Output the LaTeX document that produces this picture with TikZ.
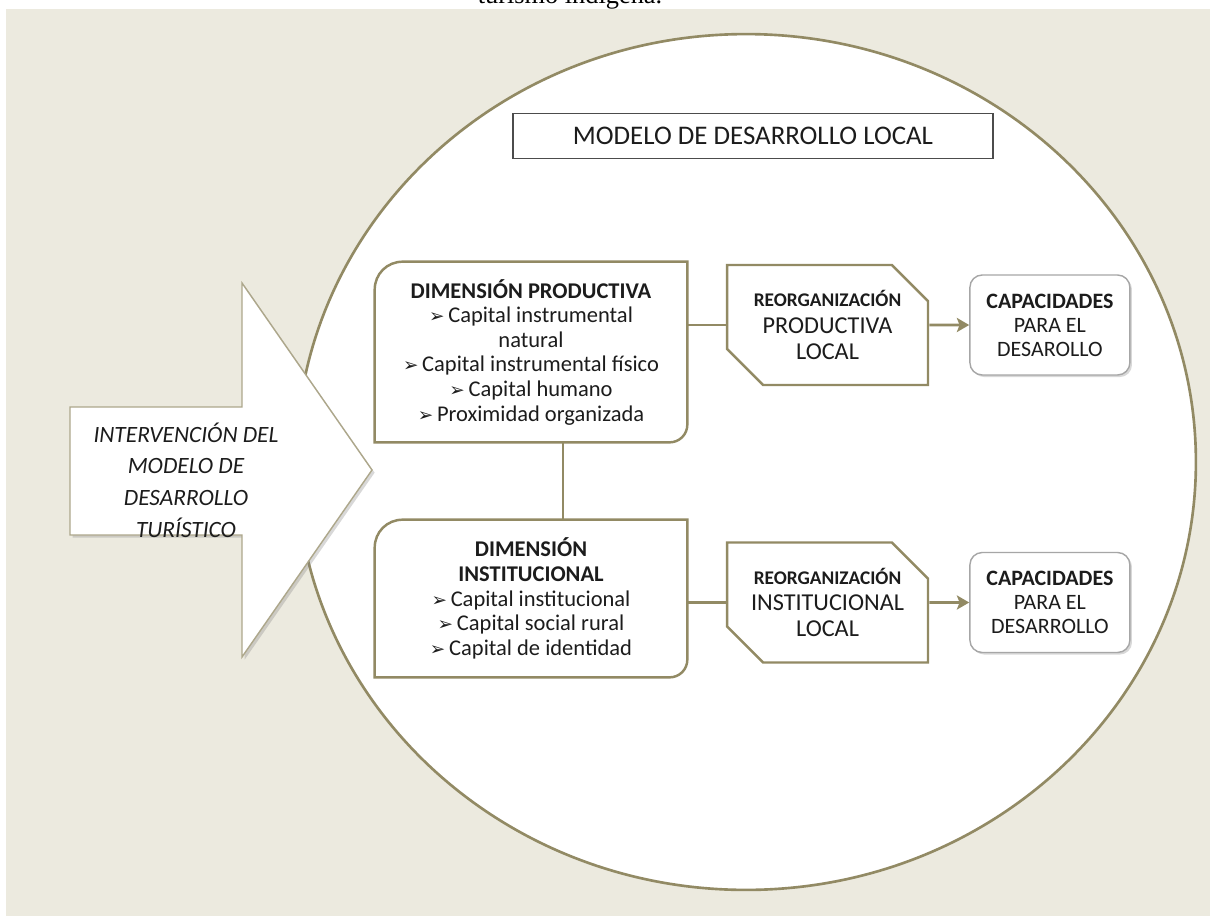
\documentclass[tikz,border=0pt]{standalone}
\usepackage{fontspec}
\setmainfont{Carlito}
\newfontfamily\captionserif{Liberation Serif}
\newfontfamily\dingfont{DejaVu Sans}
\usetikzlibrary{arrows.meta,shapes.geometric,shapes.misc,positioning,shadows}
\definecolor{bgbeige}{RGB}{236,234,223}
\definecolor{olivegray}{RGB}{146,138,100}
\definecolor{inkgray}{RGB}{28,28,28}
\newcommand\bul{{\dingfont\fontsize{10.5}{10.5}\selectfont ➢}\,}
\newcommand\diagbox[1]{\draw[dimline] (#1.north east) -- ([yshift=10pt]#1.south east)
  .. controls ([yshift=4.5pt]#1.south east) and ([xshift=-4.5pt]#1.south east) .. ([xshift=-10pt]#1.south east) -- (#1.south west)
  -- ([yshift=-16pt]#1.north west) .. controls ([yshift=-7pt]#1.north west) and ([xshift=7pt]#1.north west) .. ([xshift=16pt]#1.north west) -- cycle;}

\begin{document}
\begin{tikzpicture}[x=0.02cm, y=-0.02cm, font=\fontsize{12.8}{14}\selectfont, text=inkgray, >={Stealth[length=7pt, width=8pt, inset=1.5pt]}]
    \tikzstyle{dim}     = [rectangle, fill=white, align=center, minimum width=6.24cm, inner sep=3pt]
    \tikzstyle{dimline} = [olivegray, line width=1.4pt]
    \tikzstyle{reorg}   = [chamfered rectangle, chamfered rectangle corners={north east, south west}, chamfered rectangle xsep=0.36cm, chamfered rectangle ysep=0.36cm, draw=olivegray, line width=1.4pt, fill=white, align=center, minimum width=4.02cm, minimum height=2.4cm, font=\fontsize{13.8}{15}\selectfont]
    \tikzstyle{capac}   = [rectangle, rounded corners=7pt, draw=black!35, line width=0.8pt, fill=white, align=center, minimum width=3.2cm, minimum height=2cm, drop shadow={shadow xshift=1.2pt, shadow yshift=-1.2pt, opacity=0.3}, font=\fontsize{12.5}{13.7}\selectfont]
    \tikzstyle{link}    = [olivegray, line width=1.7pt]

    \fill[bgbeige] (6,9) rectangle (1210,916);
    \useasboundingbox (0,0) rectangle (1210,916);
    \node[anchor=base, text=black, font=\captionserif\fontsize{15}{18}\selectfont] (fig) at (570,4) {turismo indígena.};

    \node[ellipse, draw=olivegray, line width=1.5pt, fill=white, minimum width=18cm, minimum height=17.12cm, inner sep=0] (local) at (746,462) {};
    \node[draw=black!70, line width=0.9pt, fill=white, minimum width=9.6cm, minimum height=0.9cm, font=\fontsize{15.3}{18}\selectfont] (title) at (753,136) {MODELO DE DESARROLLO LOCAL};

    \node[dim, minimum height=3.6cm]  (prod) at (531,352)   {\textbf{DIMENSIÓN PRODUCTIVA}\\ \bul Capital instrumental\\ natural\\ \bul Capital instrumental físico\\ \bul Capital humano\\ \bul Proximidad organizada};
    \node[dim, minimum height=3.14cm] (inst) at (531,598.5) {\textbf{DIMENSIÓN}\\ \textbf{INSTITUCIONAL}\\ \bul Capital institucional\\ \bul Capital social rural\\ \bul Capital de identidad};
    \diagbox{prod}
    \diagbox{inst}

    \node[reorg] (rprod) at (827.5,325)   {{\fontsize{11}{13}\selectfont\bfseries REORGANIZACIÓN}\\ PRODUCTIVA\\ LOCAL};
    \node[reorg] (rinst) at (827.5,602.5) {{\fontsize{11}{13}\selectfont\bfseries REORGANIZACIÓN}\\ INSTITUCIONAL\\ LOCAL};
    \node[capac, right=0.8cm of rprod] (cprod) {\textbf{CAPACIDADES}\\ PARA EL\\ DESAROLLO};
    \node[capac, right=0.8cm of rinst] (cinst) {\textbf{CAPACIDADES}\\ PARA EL\\ DESARROLLO};

    % big arrow on the left
    \draw[draw=olivegray!75, line width=0.8pt, fill=white, drop shadow={shadow xshift=1.5pt, shadow yshift=-1.5pt, opacity=0.3}]
      (70,407) -- (242,407) -- (242,283) -- (372,470) -- (242,657) -- (242,535) -- (70,535) -- cycle;
    \node[align=center, font=\itshape\fontsize{13.3}{18}\selectfont] (tur) at (186,480) {INTERVENCIÓN DEL\\ MODELO DE\\ DESARROLLO\\ TURÍSTICO};

    \draw[link] ([xshift=0.64cm]prod.south) -- ([xshift=0.64cm]inst.north);
    \draw[link] (rprod.west -| prod.east) -- (rprod.west);
    \draw[link] (rinst.west -| inst.east) -- (rinst.west);
    \draw[link, ->] (rprod) -- (cprod);
    \draw[link, ->] (rinst) -- (cinst);
\end{tikzpicture}
\end{document}
